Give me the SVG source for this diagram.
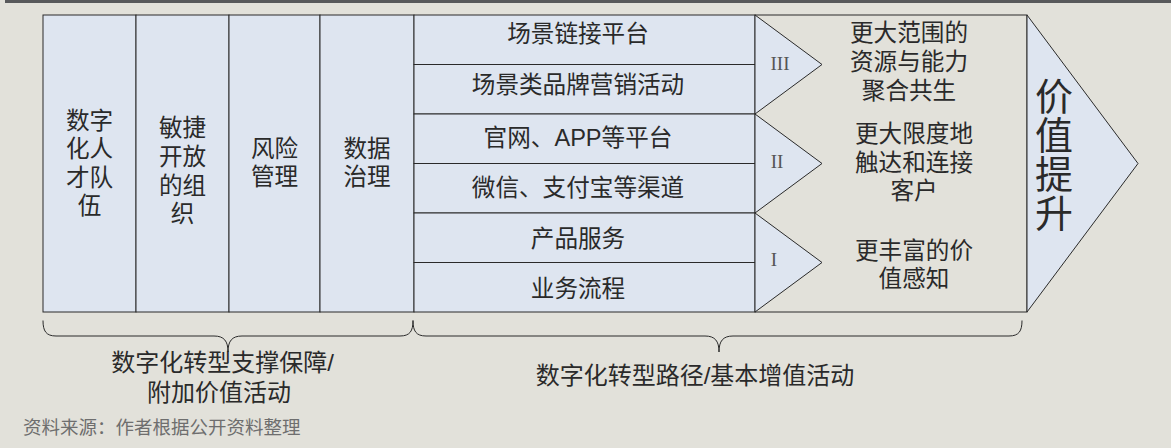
<svg xmlns="http://www.w3.org/2000/svg" width="1171" height="448" viewBox="0 0 1171 448">
<style>
.bg{fill:#e2e1da}
.blue{fill:#dee5f0;stroke:#2a2a2a;stroke-width:1}
.beige{fill:#e2e1da;stroke:#2a2a2a;stroke-width:1}
.ln{stroke:#2a2a2a;stroke-width:1;fill:none}
.t{font-family:"Liberation Sans","Noto Sans CJK SC",sans-serif;font-size:23.6px;fill:#2a2a2a;text-anchor:middle}
.big{font-size:38px}
.lab{font-size:24px}
.rn{font-family:"Liberation Serif",serif;font-size:19px;fill:#555;text-anchor:middle}
.src{font-family:"Liberation Sans","Noto Sans CJK SC",sans-serif;font-size:18.5px;fill:#6e6e6e}
</style>
<rect class="bg" x="0" y="0" width="1171" height="448"/>
<rect x="5" y="0" width="1166" height="3" fill="#58595b"/>

<g id="value-arrow">
<rect class="beige" x="755" y="15" width="272" height="297"/>
<polygon class="blue" points="1027,15 1138,163.5 1027,312"/>
<text class="t big" x="1054" y="110">价</text>
<text class="t big" x="1054" y="149">值</text>
<text class="t big" x="1054" y="188">提</text>
<text class="t big" x="1054" y="227">升</text>
</g>

<g id="col-talent">
<rect class="blue" x="43" y="15" width="93" height="297"/>
<text class="t" x="89.5" y="128.5">数字</text>
<text class="t" x="89.5" y="157">化人</text>
<text class="t" x="89.5" y="185.5">才队</text>
<text class="t" x="89.5" y="213.5">伍</text>
</g>
<g id="col-org">
<rect class="blue" x="136" y="15" width="93" height="297"/>
<text class="t" x="182.5" y="135.5">敏捷</text>
<text class="t" x="182.5" y="164.5">开放</text>
<text class="t" x="182.5" y="193.5">的组</text>
<text class="t" x="182.5" y="221.5">织</text>
</g>
<g id="col-risk">
<rect class="blue" x="229" y="15" width="91" height="297"/>
<text class="t" x="274.5" y="156.5">风险</text>
<text class="t" x="274.5" y="185">管理</text>
</g>
<g id="col-data">
<rect class="blue" x="320" y="15" width="94" height="297"/>
<text class="t" x="367" y="156.5">数据</text>
<text class="t" x="367" y="185">治理</text>
</g>

<g id="row-1">
<rect class="blue" x="414" y="15" width="341" height="49.5"/>
<text class="t" x="578" y="41.5">场景链接平台</text>
</g>
<g id="row-2">
<rect class="blue" x="414" y="64.5" width="341" height="49.5"/>
<text class="t" x="578" y="92.5">场景类品牌营销活动</text>
</g>
<g id="row-3">
<rect class="blue" x="414" y="114" width="341" height="49.5"/>
<text class="t" x="578" y="145.5">官网、APP等平台</text>
</g>
<g id="row-4">
<rect class="blue" x="414" y="163.5" width="341" height="49.5"/>
<text class="t" x="578" y="195.5">微信、支付宝等渠道</text>
</g>
<g id="row-5">
<rect class="blue" x="414" y="213" width="341" height="49.5"/>
<text class="t" x="578" y="246.5">产品服务</text>
</g>
<g id="row-6">
<rect class="blue" x="414" y="262.5" width="341" height="49.5"/>
<text class="t" x="578" y="296.5">业务流程</text>
</g>

<g id="chevron-III">
<polygon class="blue" points="755,15 822,64.5 755,114"/>
<text class="rn" x="780" y="70">III</text>
</g>
<g id="chevron-II">
<polygon class="blue" points="755,114 822,163.5 755,213"/>
<text class="rn" x="777" y="168">II</text>
</g>
<g id="chevron-I">
<polygon class="blue" points="755,213 822,262.5 755,312"/>
<text class="rn" x="774" y="266">I</text>
</g>

<g id="outcome-III">
<text class="t" x="909" y="40.5">更大范围的</text>
<text class="t" x="909" y="70">资源与能力</text>
<text class="t" x="909" y="98.5">聚合共生</text>
</g>
<g id="outcome-II">
<text class="t" x="914" y="141.5">更大限度地</text>
<text class="t" x="914" y="170.5">触达和连接</text>
<text class="t" x="914" y="198.5">客户</text>
</g>
<g id="outcome-I">
<text class="t" x="914" y="258.5">更丰富的价</text>
<text class="t" x="914" y="286.5">值感知</text>
</g>

<g id="connectors">
<path class="ln" d="M43,320.5 C43,331 46,336 56,336 L214,336 C224,336 228,341 228,352 C228,341 232,336 242,336 L400,336 C410,336 413,331 413,320.5"/>
<path class="ln" d="M413,320.5 C413,331 416,336 426,336 L705,336 C715,336 719,341 719,352 C719,341 723,336 733,336 L1009,336 C1019,336 1022,331 1022,320.5"/>
</g>

<g id="label-support">
<text class="t lab" x="222.5" y="370.5">数字化转型支撑保障/</text>
<text class="t lab" x="219" y="400.5">附加价值活动</text>
</g>
<g id="label-path">
<text class="t lab" x="695" y="383.5">数字化转型路径/基本增值活动</text>
</g>
<text class="src" x="23" y="433.5">资料来源：作者根据公开资料整理</text>
</svg>
